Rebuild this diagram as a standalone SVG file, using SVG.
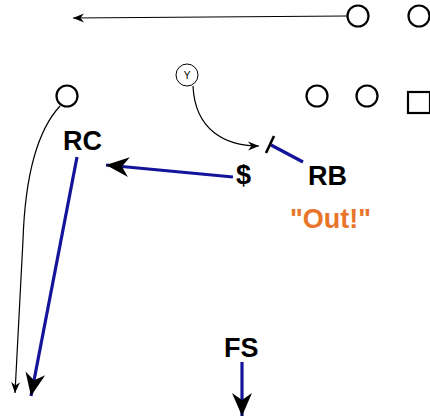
<svg xmlns="http://www.w3.org/2000/svg" width="430" height="417" viewBox="0 0 430 417">
  <style>
    .player { fill: #ffffff; stroke: #000000; stroke-width: 2.2; }
    .thin { fill: none; stroke: #000000; stroke-width: 1.2; }
    .route { fill: none; stroke: #14149a; stroke-width: 3.2; }
    .lbl { font-family: "Liberation Sans", Arial, sans-serif; font-weight: bold; font-size: 27px; fill: #000000; }
    .call { font-family: "Liberation Sans", Arial, sans-serif; font-weight: bold; font-size: 27px; fill: #e8762a; }
  </style>
  <defs>
    <marker id="tipSmall" markerUnits="userSpaceOnUse" markerWidth="16" markerHeight="12" viewBox="-12 -6 14 12" refX="0" refY="0" orient="auto">
      <path d="M0,0 L-11,-4.5 L-7.5,0 L-11,4.5 Z" fill="#000000"/>
    </marker>
    <marker id="tipBig" markerUnits="userSpaceOnUse" markerWidth="28" markerHeight="24" viewBox="-25 -12 27 24" refX="0" refY="0" orient="auto">
      <path d="M0,0 L-23,-10 L-16,0 L-23,10 Z" fill="#000000"/>
    </marker>
  </defs>

  <rect width="430" height="417" fill="#ffffff"/>

  <g id="connectors">
    <path class="thin" d="M347,16 L73,18" marker-end="url(#tipSmall)"/>
    <path class="thin" d="M60,106 C36,132 25,180 23,240 L15,393" marker-end="url(#tipSmall)"/>
    <path class="thin" d="M193,86 C195,130 225,146 259,146" marker-end="url(#tipSmall)"/>
    <path class="route" d="M233,177 L106,165" marker-end="url(#tipBig)"/>
    <path class="route" d="M77,157 L31,396" marker-end="url(#tipBig)"/>
    <path class="route" d="M242,362 L242,416" marker-end="url(#tipBig)"/>
    <path class="route" d="M271,145 L303,162"/>
    <path d="M266,153 L274,136" fill="none" stroke="#000000" stroke-width="2.6"/>
  </g>

  <g id="wr-top"><circle class="player" cx="358" cy="16" r="10.5"/></g>
  <g id="ol-top"><circle class="player" cx="419" cy="16" r="10.5"/></g>
  <g id="y-rec">
    <circle fill="#ffffff" stroke="#000000" stroke-width="1" cx="187" cy="75" r="11"/>
    <text x="187" y="79" text-anchor="middle" font-family="Liberation Sans, Arial, sans-serif" font-size="10" fill="#000000">Y</text>
  </g>
  <g id="wr-left"><circle class="player" cx="67" cy="96" r="10.5"/></g>
  <g id="ol-1"><circle class="player" cx="317" cy="96" r="10.5"/></g>
  <g id="ol-2"><circle class="player" cx="367" cy="96" r="10.5"/></g>
  <g id="center"><rect class="player" x="408" y="92" width="22" height="21"/></g>

  <g id="rc"><text class="lbl" x="63" y="150">RC</text></g>
  <g id="money"><text class="lbl" x="236" y="184">$</text></g>
  <g id="rb"><text class="lbl" x="308" y="185">RB</text></g>
  <g id="call"><text class="call" x="290" y="228">"Out!"</text></g>
  <g id="fs"><text class="lbl" x="224" y="357">FS</text></g>
</svg>
